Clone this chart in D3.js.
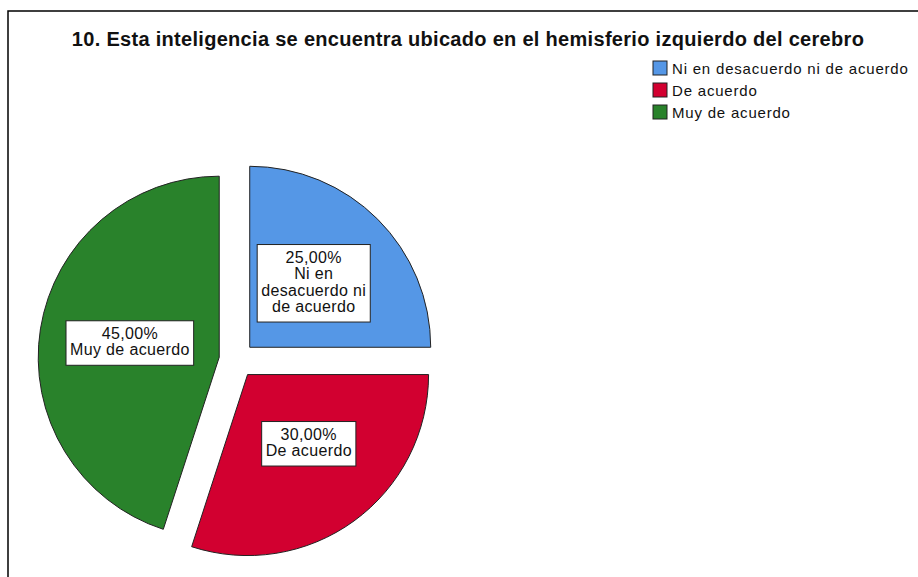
<!DOCTYPE html>
<html lang="es">
<head>
  <meta charset="UTF-8" />
  <title>Hemisferio izquierdo</title>
  <script src="https://d3js.org/d3.v7.min.js"></script>
  <style>
    body { margin: 0; background: #fff; }
    text { font-family: 'Liberation Sans', Arial, sans-serif; fill: #111; }
    .title { font-weight: bold; font-size: 20px; letter-spacing: 0.3px; }
    .legend text { font-size: 15px; letter-spacing: 0.8px; }
    .lbl text { font-size: 16px; letter-spacing: 0.35px; }
  </style>
</head>
<body>
  <div id="chart"></div>

  <script>
    const categories = ["Ni en desacuerdo ni de acuerdo", "De acuerdo", "Muy de acuerdo"];
    const percents = [25, 30, 45];
    const colors = ["#5597e6", "#d20030", "#29822b"];
    // how each slice label breaks into lines
    const labelLines = [["Ni en", "desacuerdo ni", "de acuerdo"], ["De acuerdo"], ["Muy de acuerdo"]];

    const width = 918, height = 577;
    const cx = 237, cy = 360, radius = 181, explode = 18;

    const svg = d3.select("#chart").append("svg")
      .attr("width", width)
      .attr("height", height);

    // frame (only top + left visible)
    svg.append("path")
      .attr("d", `M8,${height} V11 H${width}`)
      .attr("fill", "none")
      .attr("stroke", "#000")
      .attr("stroke-width", 1.5);

    svg.append("text")
      .attr("class", "title")
      .attr("x", 468)
      .attr("y", 46)
      .attr("text-anchor", "middle")
      .text("10. Esta inteligencia se encuentra ubicado en el hemisferio izquierdo del cerebro");

    const data = categories.map((c, i) => ({ name: c, value: percents[i], color: colors[i], lines: labelLines[i] }));

    const pie = d3.pie().sort(null).value(d => d.value);
    const arcs = pie(data);
    const arc = d3.arc().innerRadius(0).outerRadius(radius);

    const off = d => {
      const a = (d.startAngle + d.endAngle) / 2;
      return [Math.sin(a) * explode, -Math.cos(a) * explode];
    };

    const slices = svg.append("g")
      .attr("transform", `translate(${cx},${cy})`)
      .selectAll("g")
      .data(arcs)
      .enter().append("g")
      .attr("transform", d => `translate(${off(d)})`);

    slices.append("path")
      .attr("d", arc)
      .attr("fill", d => d.data.color)
      .attr("stroke", "#222")
      .attr("stroke-width", 1);

    const fmt = v => d3.format(".2f")(v).replace(".", ",") + "%";
    const lineH = 16.5;

    slices.each(function(d) {
      let [x, y] = arc.centroid(d);
      if (d.index === 1) { x += 8; y -= 4; } // SPSS nudges this one a bit
      const lines = [fmt(d.data.value)].concat(d.data.lines);
      const g = d3.select(this).append("g").attr("class", "lbl");
      const rect = g.append("rect");
      const t = g.append("text").attr("text-anchor", "middle");
      const y0 = y - (lines.length - 1) * lineH / 2 + 4;
      lines.forEach((s, i) => {
        t.append("tspan").attr("x", x).attr("y", y0 + i * lineH).text(s);
      });
      const bb = t.node().getBBox();
      rect.attr("x", bb.x - 4).attr("y", bb.y - 4)
        .attr("width", bb.width + 8).attr("height", bb.height + 11)
        .attr("fill", "#fff").attr("stroke", "#222").attr("stroke-width", 1);
    });

    const legend = svg.append("g").attr("class", "legend")
      .attr("transform", "translate(653,61)");

    const items = legend.selectAll("g")
      .data(data)
      .enter().append("g")
      .attr("transform", (d, i) => `translate(0,${i * 22})`);

    items.append("rect")
      .attr("width", 14).attr("height", 14)
      .attr("fill", d => d.color)
      .attr("stroke", "#222").attr("stroke-width", 1);

    items.append("text")
      .attr("x", 19)
      .attr("y", 13)
      .text(d => d.name);
  </script>
</body>
</html>
